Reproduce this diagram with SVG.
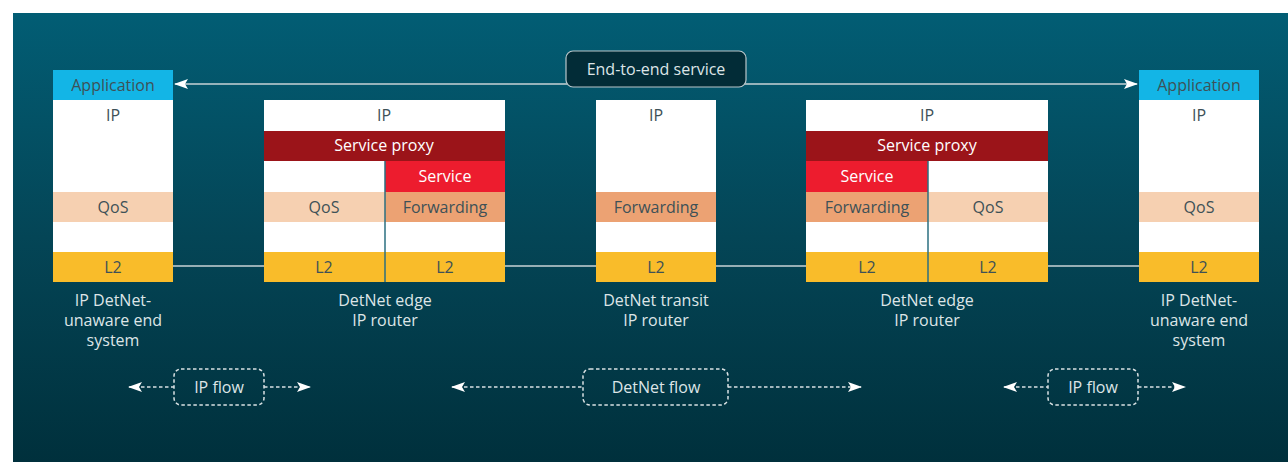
<svg xmlns="http://www.w3.org/2000/svg" width="1288" height="462" viewBox="0 0 1288 462">
<defs>
<linearGradient id="bg" x1="0" y1="0" x2="0" y2="1">
<stop offset="0" stop-color="#025d74"/>
<stop offset="0.5" stop-color="#044556"/>
<stop offset="1" stop-color="#00303c"/>
</linearGradient>
<marker id="ah" viewBox="0 0 14 10" refX="13" refY="5" markerWidth="14" markerHeight="10" markerUnits="userSpaceOnUse" orient="auto-start-reverse">
<path d="M0,0 L14,5 L0,10 L3,5 Z" fill="#ffffff"/>
</marker>
<marker id="fh" viewBox="0 0 14 10" refX="13" refY="5" markerWidth="14" markerHeight="10" markerUnits="userSpaceOnUse" orient="auto-start-reverse">
<path d="M0,0 L14,5 L0,10 L3,5 Z" fill="#ffffff"/>
</marker>
</defs>
<style>
text{font-family:"Open Sans","Liberation Sans",sans-serif;font-size:16px;text-anchor:middle}
.dk{fill:#3e5157}
.wt{fill:#ffffff}
.lb{fill:#dde5e7}
.app{fill:#13b5e6}
.w{fill:#ffffff}
.sp{fill:#9b1419}
.sv{fill:#ed1c2e}
.qos{fill:#f6d0b1}
.fw{fill:#eca273}
.l2{fill:#f9bc2a}
.div{stroke:#2b6f80;stroke-width:1.5}
.link{stroke:#c9d3d6;stroke-width:1.5;fill:none}
.dash{stroke:#d9e1e3;stroke-width:1.5;stroke-dasharray:3.5 2.5;fill:none}
</style>
<rect x="0" y="0" width="1288" height="462" fill="#ffffff"/>
<rect x="13" y="13" width="1275" height="449" fill="url(#bg)"/>

<g id="connectors">
<line class="link" x1="173" y1="266" x2="264" y2="266"/>
<line class="link" x1="505" y1="266" x2="596" y2="266"/>
<line class="link" x1="716" y1="266" x2="806" y2="266"/>
<line class="link" x1="1048" y1="266" x2="1139" y2="266"/>
<line class="link" x1="175" y1="84" x2="1137" y2="84" marker-start="url(#ah)" marker-end="url(#ah)"/>
<line class="dash" x1="129" y1="387" x2="174" y2="387" marker-start="url(#fh)"/>
<line class="dash" x1="264" y1="387" x2="310" y2="387" marker-end="url(#fh)"/>
<line class="dash" x1="452" y1="387" x2="583" y2="387" marker-start="url(#fh)"/>
<line class="dash" x1="728" y1="387" x2="861" y2="387" marker-end="url(#fh)"/>
<line class="dash" x1="1004" y1="387" x2="1048" y2="387" marker-start="url(#fh)"/>
<line class="dash" x1="1138" y1="387" x2="1185" y2="387" marker-end="url(#fh)"/>
</g>

<g id="e2e-label">
<rect x="566" y="51" width="180" height="36" rx="7" fill="#022c37" stroke="#b9c6ca" stroke-width="1.2"/>
<text class="lb" x="656" y="75">End-to-end service</text>
</g>

<g id="node-end-left">
<rect class="app" x="53" y="70" width="120" height="30"/>
<rect class="w" x="53" y="100" width="120" height="92"/>
<rect class="qos" x="53" y="192" width="120" height="30"/>
<rect class="w" x="53" y="222" width="120" height="30"/>
<rect class="l2" x="53" y="252" width="120" height="30"/>
<text class="dk" x="113" y="91">Application</text>
<text class="dk" x="113" y="121">IP</text>
<text class="dk" x="113" y="213">QoS</text>
<text class="dk" x="113" y="273">L2</text>
<text class="lb" x="113" y="306">IP DetNet-</text>
<text class="lb" x="113" y="326">unaware end</text>
<text class="lb" x="113" y="346">system</text>
</g>

<g id="node-edge-left">
<rect class="w" x="264" y="100" width="241" height="31"/>
<rect class="sp" x="264" y="131" width="241" height="30"/>
<rect class="w" x="264" y="161" width="121" height="31"/>
<rect class="sv" x="385" y="161" width="120" height="31"/>
<rect class="qos" x="264" y="192" width="121" height="30"/>
<rect class="fw" x="385" y="192" width="120" height="30"/>
<rect class="w" x="264" y="222" width="241" height="30"/>
<rect class="l2" x="264" y="252" width="241" height="30"/>
<line class="div" x1="385" y1="161" x2="385" y2="282"/>
<text class="dk" x="384" y="121">IP</text>
<text class="wt" x="384" y="151">Service proxy</text>
<text class="wt" x="445" y="182">Service</text>
<text class="dk" x="324" y="213">QoS</text>
<text class="dk" x="445" y="213">Forwarding</text>
<text class="dk" x="324" y="273">L2</text>
<text class="dk" x="445" y="273">L2</text>
<text class="lb" x="385" y="306">DetNet edge</text>
<text class="lb" x="385" y="326">IP router</text>
</g>

<g id="node-transit">
<rect class="w" x="596" y="100" width="120" height="92"/>
<rect class="fw" x="596" y="192" width="120" height="30"/>
<rect class="w" x="596" y="222" width="120" height="30"/>
<rect class="l2" x="596" y="252" width="120" height="30"/>
<text class="dk" x="656" y="121">IP</text>
<text class="dk" x="656" y="213">Forwarding</text>
<text class="dk" x="656" y="273">L2</text>
<text class="lb" x="656" y="306">DetNet transit</text>
<text class="lb" x="656" y="326">IP router</text>
</g>

<g id="node-edge-right">
<rect class="w" x="806" y="100" width="242" height="31"/>
<rect class="sp" x="806" y="131" width="242" height="30"/>
<rect class="sv" x="806" y="161" width="122" height="31"/>
<rect class="w" x="928" y="161" width="120" height="31"/>
<rect class="fw" x="806" y="192" width="122" height="30"/>
<rect class="qos" x="928" y="192" width="120" height="30"/>
<rect class="w" x="806" y="222" width="242" height="30"/>
<rect class="l2" x="806" y="252" width="242" height="30"/>
<line class="div" x1="928" y1="161" x2="928" y2="282"/>
<text class="dk" x="927" y="121">IP</text>
<text class="wt" x="927" y="151">Service proxy</text>
<text class="wt" x="867" y="182">Service</text>
<text class="dk" x="867" y="213">Forwarding</text>
<text class="dk" x="988" y="213">QoS</text>
<text class="dk" x="867" y="273">L2</text>
<text class="dk" x="988" y="273">L2</text>
<text class="lb" x="927" y="306">DetNet edge</text>
<text class="lb" x="927" y="326">IP router</text>
</g>

<g id="node-end-right">
<rect class="app" x="1139" y="70" width="120" height="30"/>
<rect class="w" x="1139" y="100" width="120" height="92"/>
<rect class="qos" x="1139" y="192" width="120" height="30"/>
<rect class="w" x="1139" y="222" width="120" height="30"/>
<rect class="l2" x="1139" y="252" width="120" height="30"/>
<text class="dk" x="1199" y="91">Application</text>
<text class="dk" x="1199" y="121">IP</text>
<text class="dk" x="1199" y="213">QoS</text>
<text class="dk" x="1199" y="273">L2</text>
<text class="lb" x="1199" y="306">IP DetNet-</text>
<text class="lb" x="1199" y="326">unaware end</text>
<text class="lb" x="1199" y="346">system</text>
</g>

<g id="flow-ip-left">
<rect class="dash" x="174" y="369" width="90" height="36" rx="7"/>
<text class="lb" x="219" y="393">IP flow</text>
</g>
<g id="flow-detnet">
<rect class="dash" x="583" y="369" width="145" height="36" rx="7"/>
<text class="lb" x="656" y="393">DetNet flow</text>
</g>
<g id="flow-ip-right">
<rect class="dash" x="1048" y="369" width="90" height="36" rx="7"/>
<text class="lb" x="1093" y="393">IP flow</text>
</g>
</svg>
